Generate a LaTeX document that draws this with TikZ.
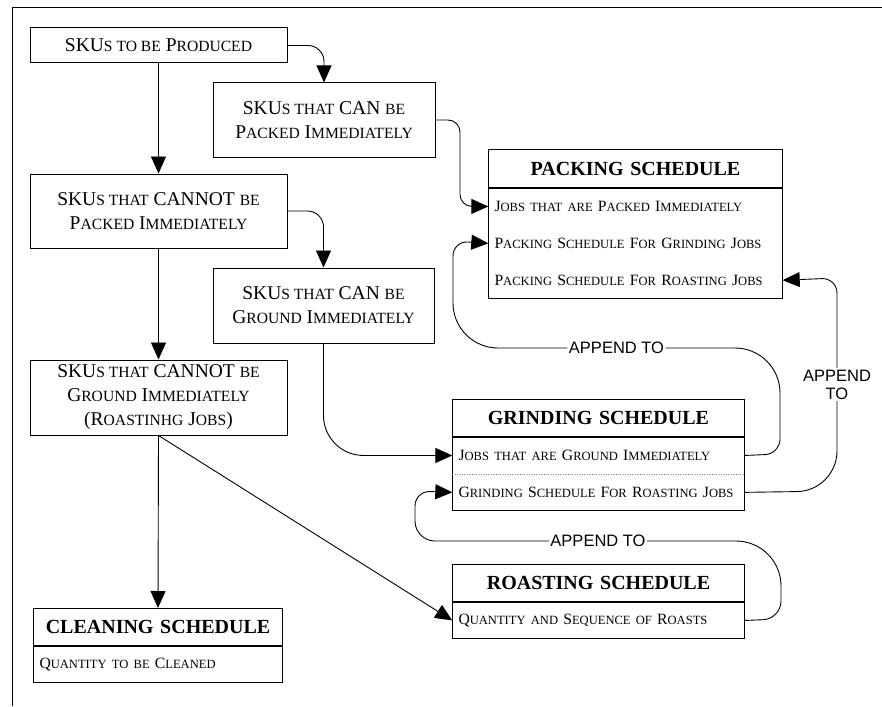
\documentclass[tikz,border=0pt]{standalone}
\usepackage{fontspec}
\setmainfont{Liberation Serif}
\newfontfamily\labelsans{Liberation Sans}
\usetikzlibrary{arrows.meta,positioning}

% small caps faked from capitals
\makeatletter
\newcommand\smc[1]{{\fontsize{\fpeval{0.8*\f@size}}{\f@baselineskip}\selectfont\MakeUppercase{#1}}}
\makeatother

\newcommand\skufont{\fontsize{19.5}{24}\selectfont}
\newcommand\rowfont{\fontsize{15.7}{19}\selectfont}
\newcommand\hdrfont{\fontsize{20}{24}\selectfont\bfseries}
\newcommand\lblfont{\fontsize{16.5}{18}\selectfont\labelsans}

\begin{document}
\begin{tikzpicture}[x=1pt, y=-1pt,
  skubox/.style={draw, line width=1pt, align=center, font=\skufont, inner sep=2pt},
  hdr/.style={draw, line width=1pt, font=\hdrfont, text width=#1, align=center, inner xsep=0pt, minimum height=37pt},
  jobrow/.style={font=\rowfont, text width=#1, align=left, inner xsep=6pt, minimum height=36.5pt},
  flow/.style={line width=0.9pt, -{Triangle[length=17pt,width=15pt]}},
  appendlbl/.style={font=\lblfont, fill=white, inner sep=1.5pt, align=center}]
  \useasboundingbox (0,0) rectangle (882,706);

  % Frame
  \draw[line width=1pt] (12,706) -- (12,8) -- (882,8);

  % SKU split
  \node[skubox, minimum width=257pt, minimum height=35pt] (produce) at (158.5,45.5)
    {SKU\smc{s to be} P\smc{roduced}};
  \node[skubox, minimum width=222pt, minimum height=74pt] (canpack) at (324,120)
    {SKU\smc{s that} CAN \smc{be}\\P\smc{acked} I\smc{mmediately}};
  \node[skubox, minimum width=257pt, minimum height=74pt] (cantpack) at (158.5,211)
    {SKU\smc{s that} CANNOT \smc{be}\\P\smc{acked} I\smc{mmediately}};
  \node[skubox, minimum width=221pt, minimum height=75pt] (cangrind) at (323.5,305.5)
    {SKU\smc{s that} CAN \smc{be}\\G\smc{round} I\smc{mmediately}};
  \node[skubox, minimum width=257pt, minimum height=75pt] (cantgrind) at (158.5,397.5)
    {SKU\smc{s that} CANNOT \smc{be}\\G\smc{round} I\smc{mmediately}\\(R\smc{oastinhg} J\smc{obs})};

  % Packing schedule
  \node[hdr=294pt, minimum height=38pt, anchor=north west] (packH) at (488,149) {PACKING SCHEDULE};
  \node[jobrow=282pt, below=0pt of packH] (packA) {J\smc{obs that are} P\smc{acked} I\smc{mmediately}};
  \node[jobrow=282pt, below=0pt of packA] (packB) {P\smc{acking} S\smc{chedule} F\smc{or} G\smc{rinding} J\smc{obs}};
  \node[jobrow=282pt, below=0pt of packB] (packC) {P\smc{acking} S\smc{chedule} F\smc{or} R\smc{oasting} J\smc{obs}};
  \draw[line width=1pt] (packH.south west) rectangle (packC.south east);

  % Grinding schedule
  \node[hdr=292pt, anchor=north west] (grindH) at (452,399) {GRINDING SCHEDULE};
  \node[jobrow=280pt, below=0pt of grindH] (grindA) {J\smc{obs that are} G\smc{round} I\smc{mmediately}};
  \node[jobrow=280pt, below=0pt of grindA] (grindB) {\mbox{G\smc{rinding} S\smc{chedule} F\smc{or} R\smc{oasting} J\smc{obs}}};
  \draw[line width=1pt] (grindH.south west) rectangle (grindB.south east);
  \draw[gray, dotted] (grindA.south west) -- (grindA.south east);

  % Roasting schedule
  \node[hdr=292pt, anchor=north west] (roastH) at (452,564) {ROASTING SCHEDULE};
  \node[jobrow=280pt, below=0pt of roastH] (roastA) {Q\smc{uantity and} S\smc{equence of} R\smc{oasts}};
  \draw[line width=1pt] (roastH.south west) rectangle (roastA.south east);

  % Cleaning schedule
  \node[hdr=249pt, anchor=north west] (cleanH) at (33,608) {CLEANING SCHEDULE};
  \node[jobrow=237pt, below=0pt of cleanH] (cleanA) {Q\smc{uantity to be} C\smc{leaned}};
  \draw[line width=1pt] (cleanH.south west) rectangle (cleanA.south east);

  % Left column
  \draw[flow] (produce) -- (cantpack);
  \draw[flow] (cantpack) -- (cantgrind);
  \draw[flow] (cantgrind.south) -- (cleanH.north);
  \draw[flow] (cantgrind.south) -- (roastA.west);

  % Branches
  \draw[flow, rounded corners=16pt] (produce.east) -| (canpack.north);
  \draw[flow, rounded corners=16pt] (cantpack.east) -| (cangrind.north);
  \draw[flow, rounded corners=12pt] (canpack.east) -- (460,120) |- (packA.west);
  \draw[flow, rounded corners=40pt] (cangrind.south) |- (grindA.west);

  % Append loops
  \draw[flow] (grindA.east) [rounded corners=15pt] -- (780,454)
    [rounded corners=45pt] -- (780,348) -- node[appendlbl] {APPEND TO} (453,348)
    [rounded corners=15pt] -- (453,241) -- (packB.west);
  \draw[flow] (grindB.east) [rounded corners=40pt] -- (837,491)
    [rounded corners=15pt] -- node[appendlbl] {APPEND\\TO} (837,278) -- (packC.east);
  \draw[flow] (roastA.east) [rounded corners=18pt] -- (781,619)
    [rounded corners=45pt] -- (781,541)
    [rounded corners=20pt] -- node[appendlbl] {APPEND TO} (415,541)
    [rounded corners=15pt] -- (415,491) -- (grindB.west);
\end{tikzpicture}
\end{document}
